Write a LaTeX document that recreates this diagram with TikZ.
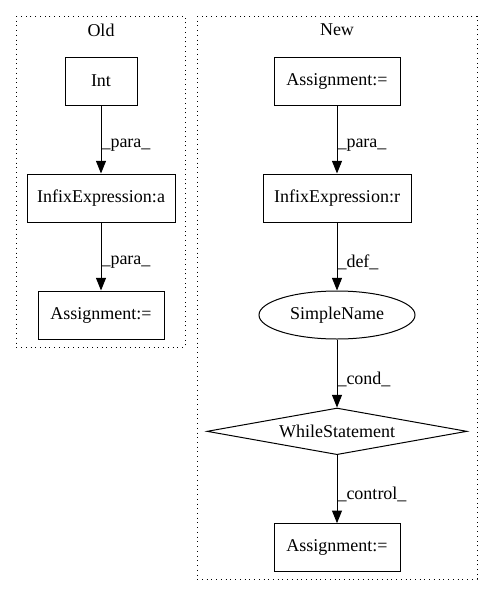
\documentclass[tikz,border=0pt]{standalone}
\usepackage{fontspec}
\setmainfont{Liberation Serif}
\usetikzlibrary{arrows.meta,positioning,shapes.geometric}

\begin{document}
\begin{tikzpicture}[x=0.75pt, y=-0.75pt, line width=0.75pt,
    txt/.style={font=\fontsize{13.5pt}{15pt}\selectfont},
    box/.style={txt, draw, rectangle, minimum height=36pt, inner sep=0pt},
    oval/.style={txt, draw, ellipse, minimum width=117pt, minimum height=36pt, inner sep=0pt},
    decision/.style={txt, draw, diamond, aspect=5.5, minimum width=195pt, minimum height=35pt, inner sep=0pt},
    cluster/.style={draw, dash pattern=on 0.75pt off 2.8pt},
    arr/.style={-{Triangle[length=9.5pt, width=7.5pt]}},
    lbl/.style={txt, right, inner sep=0pt, pos=0.58}]
    \useasboundingbox (0,0) rectangle (493,596);
    \draw[cluster] (16,16) rectangle (185,347);
    \draw[cluster] (197,16) rectangle (477,579);
    \node[txt] (oldttl) at (101,30) {Old};
    \node[txt] (newttl) at (337,30) {New};
    \node[box, minimum width=54pt] (int) at (101,81) {Int};
    \node[box, minimum width=111pt, below=51pt of int] (infa) {InfixExpression:a};
    \node[box, minimum width=94.5pt, below=51pt of infa] (asgold) {Assignment:=};
    \node[box, minimum width=94.5pt] (asgtop) at (337,81) {Assignment:=};
    \node[box, minimum width=111pt, below=51pt of asgtop] (infr) {InfixExpression:r};
    \node[oval, below=51pt of infr] (sname) {SimpleName};
    \node[decision, below=51pt of sname] (wstmt) {WhileStatement};
    \node[box, minimum width=94.5pt, below=51pt of wstmt] (asgbot) {Assignment:=};
    \draw[arr] (int) -- node[lbl] {\_para\_} (infa);
    \draw[arr] (infa) -- node[lbl] {\_para\_} (asgold);
    \draw[arr] (asgtop) -- node[lbl] {\_para\_} (infr);
    \draw[arr] (infr) -- node[lbl] {\_def\_} (sname);
    \draw[arr] (sname) -- node[lbl] {\_cond\_} (wstmt);
    \draw[arr] (wstmt) -- node[lbl] {\_control\_} (asgbot);
\end{tikzpicture}
\end{document}
